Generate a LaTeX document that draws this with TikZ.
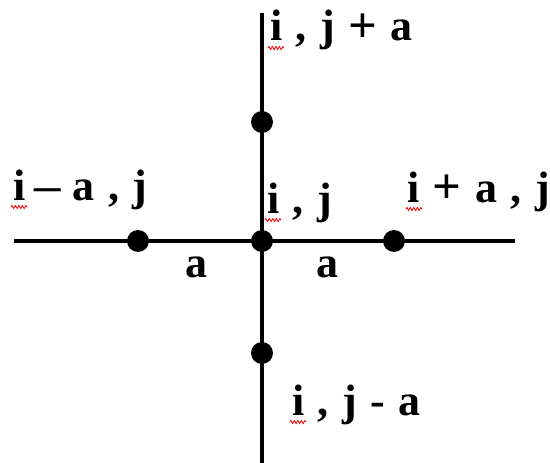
\documentclass[tikz,border=0pt]{standalone}
\usepackage{fontspec}
\setmainfont{Liberation Serif}
\usetikzlibrary{decorations.pathmorphing}
\newcommand\lblfont{\fontsize{44}{52}\selectfont\bfseries}
\newcommand\gp{\hspace{13.5pt}}
\newcommand\bigplus{\raisebox{-1.5pt}{\scalebox{1.15}{+}}}
\newcommand\longdash{\scalebox{1.2}[1]{–}}
\begin{document}
\begin{tikzpicture}[x=1pt,y=-1pt,
  dot/.style={circle,fill=black,inner sep=0pt,minimum size=22pt},
  lbl/.style={anchor=base west,inner sep=0pt,font=\lblfont},
  ln/.style={line width=4pt},
  squig/.style={red,line width=0.8pt,decorate,decoration={zigzag,segment length=3.5pt,amplitude=1.6pt}}]
\useasboundingbox (0,0) rectangle (550,463);
\coordinate (top) at (262,13);
\coordinate (bot) at (262,463);
\coordinate (lft) at (14,241);
\coordinate (rgt) at (515,241);
\draw[ln] (top) -- (bot);
\draw[ln] (lft) -- (rgt);
\node[dot] (c) at (262,241) {};
\node[dot] (n) at (262,122) {};
\node[dot] (w) at (138,241) {};
\node[dot] (e) at (394,241) {};
\node[dot] (s) at (262,353) {};
\node[lbl] (ln) at (270,41) {i\gp,\gp j\gp\bigplus\gp a};
\node[lbl] (lw) at (13,200) {i\hspace{9pt}\longdash\hspace{12pt}a\gp,\gp j};
\node[lbl] (lc) at (267,213) {i\gp,\gp j};
\node[lbl] (le) at (407,202) {i\gp\bigplus\gp a\gp,\gp j};
\node[lbl] (ls) at (292,415) {i\gp,\gp j\gp-\gp a};
\node[lbl] (aw) at (185,277) {a};
\node[lbl] (ae) at (316,277) {a};
\draw[squig] (268,48) -- (284,48);
\draw[squig] (11,207) -- (27,207);
\draw[squig] (265,220) -- (281,220);
\draw[squig] (406,209) -- (422,209);
\draw[squig] (290,422) -- (306,422);
\end{tikzpicture}
\end{document}
